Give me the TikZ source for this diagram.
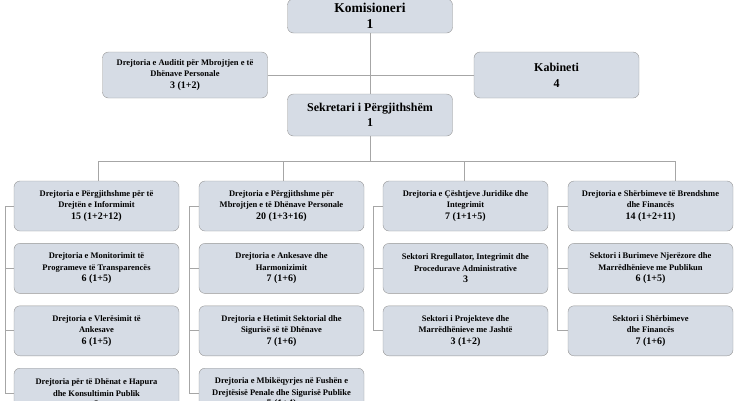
\documentclass[tikz,border=0pt]{standalone}
\usepackage{fontspec}
\setmainfont{Liberation Serif}
\usetikzlibrary{positioning}
\definecolor{boxfill}{RGB}{214,220,229}
\definecolor{boxline}{RGB}{150,150,150}
\definecolor{wirecol}{RGB}{166,166,166}
\newcommand{\cnt}[1]{{\fontsize{10}{12}\selectfont #1}}

\begin{document}
\begin{tikzpicture}[x=1pt,y=-1pt,node distance=12pt,
  unit/.style={draw=boxline,fill=boxfill,rounded corners=6pt,align=center,
    minimum width=165pt,minimum height=50pt,inner sep=1pt,
    font=\bfseries\fontsize{8.5}{11.5}\selectfont},
  head/.style={unit,minimum height=42pt,font=\bfseries\fontsize{12}{15}\selectfont},
  wire/.style={draw=wirecol,line width=0.8pt}]
%\draw[gray,very thin] (0,0) grid[step=50] (735,400);
\useasboundingbox (0,0) rectangle (735,400);
\clip (0,0) rectangle (735,400);
\node[head,minimum height=34pt,font=\bfseries\fontsize{13.5}{16}\selectfont] (kom) at (370,16) {Komisioneri\\1};
\node[unit,minimum height=46pt] (audit) at (185,75) {Drejtoria e Auditit për Mbrojtjen e të\\Dhënave Personale\\\cnt{3 (1+2)}};
\node[head,minimum height=46pt,font=\bfseries\fontsize{12}{16}\selectfont] (kab) at (556.5,75) {Kabineti\\4};
\node[head] (sek) at (370,115) {Sekretari i Përgjithshëm\\1};
\draw[wire] (kom.south) -- (sek.north);
\draw[wire] (audit.east) -- (kab.west);
\coordinate (b1) at (98,161);
\coordinate (b2) at (283,161);
\coordinate (b3) at (464,161);
\coordinate (b4) at (675,161);
\draw[wire] (sek.south) -- (sek.south |- b1);
\draw[wire] (b1) -- (b4);
% first column
\node[unit] (c1a) at (96.5,206) {Drejtoria e Përgjithshme për të\\Drejtën e Informimit\\\cnt{15 (1+2+12)}};
\node[unit,below=of c1a] (c1b) {Drejtoria e Monitorimit të\\Programeve të Transparencës\\\cnt{6 (1+5)}};
\node[unit,below=of c1b] (c1c) {Drejtoria e Vlerësimit të\\Ankesave\\\cnt{6 (1+5)}};
\node[unit,below=of c1c] (c1d) {Drejtoria për të Dhënat e Hapura\\dhe Konsultimin Publik\\\cnt{3}};
% second column
\node[unit] (c2a) at (281.5,206) {Drejtoria e Përgjithshme për\\Mbrojtjen e të Dhënave Personale\\\cnt{20 (1+3+16)}};
\node[unit,below=of c2a] (c2b) {Drejtoria e Ankesave dhe\\Harmonizimit\\\cnt{7 (1+6)}};
\node[unit,below=of c2b] (c2c) {Drejtoria e Hetimit Sektorial dhe\\Sigurisë së të Dhënave\\\cnt{7 (1+6)}};
\node[unit,below=of c2c] (c2d) {Drejtoria e Mbikëqyrjes në Fushën e\\Drejtësisë Penale dhe Sigurisë Publike\\\cnt{5 (1+4)}};
% third column
\node[unit] (c3a) at (465.5,206) {Drejtoria e Çështjeve Juridike dhe\\Integrimit\\\cnt{7 (1+1+5)}};
\node[unit,below=of c3a] (c3b) {Sektori Rregullator, Integrimit dhe\\Procedurave Administrative\\\cnt{3}};
\node[unit,below=of c3b] (c3c) {Sektori i Projekteve dhe\\Marrëdhënieve me Jashtë\\\cnt{3 (1+2)}};
% fourth column
\node[unit] (c4a) at (650.5,206) {Drejtoria e Shërbimeve të Brendshme\\dhe Financës\\\cnt{14 (1+2+11)}};
\node[unit,below=of c4a] (c4b) {Sektori i Burimeve Njerëzore dhe\\Marrëdhënieve me Publikun\\\cnt{6 (1+5)}};
\node[unit,below=of c4b] (c4c) {Sektori i Shërbimeve\\dhe Financës\\\cnt{7 (1+6)}};
\draw[wire] (b1) -- (b1 |- c1a.north);
\draw[wire] (b2) -- (b2 |- c2a.north);
\draw[wire] (b3) -- (b3 |- c3a.north);
\draw[wire] (b4) -- (b4 |- c4a.north);
\coordinate (l1) at (5,0);
\coordinate (l2) at (189,0);
\coordinate (l3) at (373,0);
\coordinate (l4) at (557,0);
\draw[wire] (c1a.west) -- (c1a.west -| l1) |- (c1d.west);
\draw[wire] (c1a.west -| l1) |- (c1b.west);
\draw[wire] (c1a.west -| l1) |- (c1c.west);
\draw[wire] (c2a.west) -- (c2a.west -| l2) |- (c2d.west);
\draw[wire] (c2a.west -| l2) |- (c2b.west);
\draw[wire] (c2a.west -| l2) |- (c2c.west);
\draw[wire] (c3a.west) -- (c3a.west -| l3) |- (c3c.west);
\draw[wire] (c3a.west -| l3) |- (c3b.west);
\draw[wire] (c4a.west) -- (c4a.west -| l4) |- (c4c.west);
\draw[wire] (c4a.west -| l4) |- (c4b.west);
\end{tikzpicture}
\end{document}
